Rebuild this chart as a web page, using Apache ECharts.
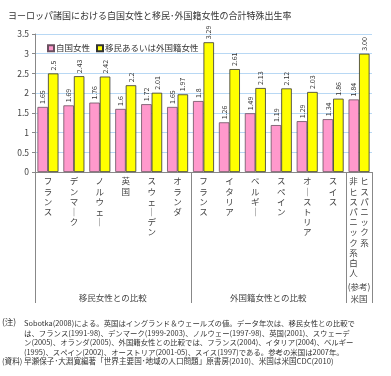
<!DOCTYPE html>
<html><head><meta charset="utf-8">
<script src="https://cdn.jsdelivr.net/npm/echarts@6/dist/echarts.min.js"></script>
<style>html,body{margin:0;padding:0;background:#fff}#c{width:391px;height:376px}</style>
</head><body><div id="c"></div>
<script>
const titleText = 'ヨーロッパ諸国における自国女性と移民･外国籍女性の合計特殊出生率';
const categories = ['フランス','デンマーク','ノルウェー','英国','スウェーデン','オランダ','フランス','イタリア','ベルギー','スペイン','オーストリア','スイス','ヒスパニック'];
const lastColLeft = '非ヒスパニック系白人';
const lastColRight = 'ヒスパニック系';
const seriesNames = ['自国女性','移民あるいは外国籍女性'];
const nativeVals = [1.65,1.69,1.76,1.6,1.72,1.65,1.8,1.26,1.49,1.19,1.29,1.34,1.84];
const nativeLabels = ['1.65','1.69','1.76','1.6','1.72','1.65','1.8','1.26','1.49','1.19','1.29','1.34','1.84'];
const migrantVals = [2.5,2.43,2.42,2.2,2.01,1.97,3.29,2.61,2.13,2.12,2.03,1.86,3.00];
const migrantLabels = ['2.5','2.43','2.42','2.2','2.01','1.97','3.29','2.61','2.13','2.12','2.03','1.86','3.00'];
const groupNames = ['移民女性との比較','外国籍女性との比較','(参考)\n米国'];
const groupSizes = [6,6,1];
const notes = [
 'Sobotka(2008)による。英国はイングランド＆ウェールズの値。データ年次は、移民女性との比較で',
 'は、フランス(1991-98)、デンマーク(1999-2003)、ノルウェー(1997-98)、英国(2001)、スウェーデ',
 'ン(2005)、オランダ(2005)、外国籍女性との比較では、フランス(2004)、イタリア(2004)、ベルギー',
 '(1995)、スペイン(2002)、オーストリア(2001-05)、スイス(1997)である。参考の米国は2007年。'
];
const sourceText = '(資料) 早瀬保子･大淵寛編著「世界主要国･地域の人口問題」原書房(2010)、米国は米国CDC(2010)';

const FONT = '"Noto Sans CJK JP","Noto Sans",sans-serif';
const vert = s => s.split('').map(ch => ch === 'ー' ? '｜' : ch);
const LH = 10.2;

const chart = echarts.init(document.getElementById('c'), null, {renderer:'canvas'});
const lastIdx = categories.length - 1;
function catFormatter(v, i) {
  if (i === lastIdx) {
    const a = vert(lastColLeft), b = vert(lastColRight);
    const n = Math.max(a.length, b.length);
    const lines = [];
    for (let k = 0; k < n; k++) lines.push('{a|' + (a[k] || ' ') + '}{b|' + (b[k] || ' ') + '}');
    return lines.join('\n');
  }
  return vert(v).join('\n');
}

chart.setOption({
  animation:false,
  textStyle:{fontFamily:FONT},
  title:{text:titleText, left:3, top:6, textStyle:{fontSize:9, fontWeight:'normal', color:'#333', fontFamily:FONT}},
  legend:{left:42, top:39, itemWidth:6, itemHeight:6, itemGap:6, icon:'rect',
    textStyle:{fontSize:8.5, color:'#333', fontFamily:FONT, padding:[0,0,0,-3]}, data:seriesNames},
  grid:{left:35, right:19, top:34, bottom:204, containLabel:false},
  xAxis:{type:'category', data:categories,
    axisLine:{lineStyle:{color:'#888'}}, axisTick:{show:false},
    axisLabel:{interval:0, formatter:catFormatter, fontSize:8.5, lineHeight:LH, color:'#444', margin:4, verticalAlign:'top',
      rich:{a:{width:11, align:'center', fontSize:8.5, lineHeight:LH, color:'#444'}, b:{width:11, align:'center', fontSize:8.5, lineHeight:LH, color:'#444'}}}},
  yAxis:{type:'value', min:0, max:3.5, interval:0.5,
    axisLine:{show:true, lineStyle:{color:'#888'}}, axisTick:{show:true, length:3, lineStyle:{color:'#888'}},
    axisLabel:{fontSize:8.5, color:'#444', margin:6},
    splitLine:{lineStyle:{color:'#b8d8f4'}}},
  series:[
    {name:seriesNames[0], type:'bar', data:nativeVals, barGap:'0%', barCategoryGap:'19%',
      itemStyle:{color:'#ff99cc', borderColor:'#6a5060', borderWidth:0.8},
      label:{show:true, position:'top', rotate:90, align:'left', verticalAlign:'middle', distance:3, fontSize:7, color:'#333',
        formatter:p => nativeLabels[p.dataIndex]}},
    {name:seriesNames[1], type:'bar', data:migrantVals,
      itemStyle:{color:'#ffff00', borderColor:'#333', borderWidth:0.8},
      label:{show:true, position:'top', rotate:90, align:'left', verticalAlign:'middle', distance:3, fontSize:7, color:'#333',
        formatter:p => migrantLabels[p.dataIndex]}}
  ]
});

// separators & group labels, positioned through the axis scale
const y0 = chart.convertToPixel({yAxisIndex:0}, 0);
const step = chart.convertToPixel({xAxisIndex:0}, 1) - chart.convertToPixel({xAxisIndex:0}, 0);
const edge = i => chart.convertToPixel({xAxisIndex:0}, i) - step/2;
const g = [];
let start = 0;
const bounds = [0];
groupSizes.forEach(s => { start += s; bounds.push(start); });
bounds.forEach(b => {
  const x = Math.round(edge(b)) + 0.5;
  g.push({type:'line', shape:{x1:x, y1:y0, x2:x, y2:303}, style:{stroke:'#888', lineWidth:1}, silent:true});
});
groupNames.forEach((n, k) => {
  const cx = (edge(bounds[k]) + edge(bounds[k+1])) / 2;
  n.split('\n').forEach((line, j, arr) => {
    const yy = arr.length > 1 ? 287 + j * 12 : 298;
    g.push({type:'text', x:cx, y:yy, style:{text:line, fill:'#444', font:'8.5px ' + FONT, align:'center', verticalAlign:'middle'}});
  });
});
g.push({type:'text', x:2, y:322, style:{text:'(注)', fill:'#333', font:'8.5px ' + FONT, verticalAlign:'middle'}});
const noteY = [323, 333, 342.5, 352];
notes.forEach((t, k) => {
  g.push({type:'text', x:24, y:noteY[k], style:{text:t, fill:'#333', font:'7.4px ' + FONT, verticalAlign:'middle'}});
});
g.push({type:'text', x:2, y:361.5, style:{text:sourceText, fill:'#333', font:'7.6px ' + FONT, verticalAlign:'middle'}});
chart.setOption({graphic:g});
</script></body></html>
